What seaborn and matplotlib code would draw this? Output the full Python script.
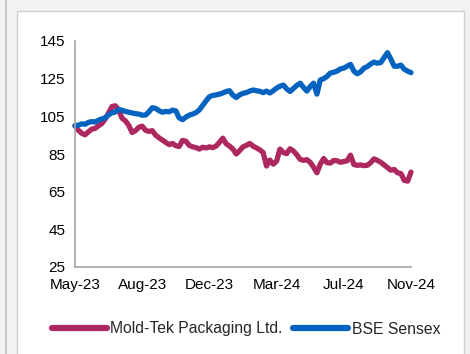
import matplotlib
matplotlib.use("Agg")
import matplotlib.pyplot as plt
import seaborn as sns
import pandas as pd
import numpy as np
from matplotlib.patches import Rectangle
from matplotlib.lines import Line2D

# ---- data (rebased to 100) ----
mold_tek = [100, 97.6, 96, 95.2, 96.8, 98.2, 98.6, 100, 101.2, 103.6,
            106.8, 110.2, 110.6, 108.4, 104, 102.6, 100.2, 96.4, 97.4, 99.2,
            99.8, 97.6, 97, 97.4, 95, 93.6, 92.4, 91.2, 90, 90.6,
            89.4, 89, 92.2, 91.8, 89.6, 88.8, 88.4, 87.6, 88.6, 88.2,
            88.8, 88.4, 89.2, 91.2, 93.4, 90.4, 89.2, 87.6, 85, 86.8,
            88.8, 89.6, 90.6, 89.2, 88.2, 87.2, 85.8, 78.6, 81.8, 79.6,
            81.2, 87.6, 85.8, 85.2, 87.8, 86.6, 84.6, 82.2, 81.6, 82,
            80.6, 78, 75, 79.6, 82.6, 80.4, 80.2, 81.6, 81.4, 80.6,
            81, 81.4, 84.4, 79.4, 79, 79.2, 78.8, 79, 80.4, 82.4,
            81.6, 80.6, 79.2, 77.8, 76.4, 76.8, 75, 74.6, 71, 70.6,
            75.4]
sensex = [100, 100.3, 101, 100.8, 101.8, 102.2, 102, 103, 103.6, 104.2,
          105.8, 106.9, 107.3, 108.7, 108.2, 107.6, 107.2, 106.8, 106.4, 106.2,
          105.6, 105.7, 107.4, 109.6, 109.2, 108, 107.2, 107.6, 107.4, 108.3,
          107.9, 104.2, 103.2, 104.6, 105.6, 106.2, 107, 108.4, 110.8, 113.2,
          115.4, 116.1, 116.4, 116.8, 117.4, 118.2, 118.6, 116.2, 115, 116.4,
          117.2, 117.6, 118.4, 119, 118.6, 118.3, 117.6, 118.4, 117.4, 118.6,
          120, 121, 121.6, 119.6, 118.2, 119.8, 121.4, 122.6, 120.4, 118.4,
          120.8, 122.6, 116.8, 124.3, 125, 126.2, 128, 128.4, 129, 130.2,
          130.6, 131.6, 132.6, 129, 127.6, 128.6, 130.6, 131.4, 132.8, 133.8,
          133.2, 133.6, 136.2, 138.8, 135.4, 131.6, 131.6, 132.2, 130, 129,
          128.2]
tick_labels = ["May-23", "Aug-23", "Dec-23", "Mar-24", "Jul-24", "Nov-24"]
y_ticks = [25, 45, 65, 85, 105, 125, 145]
series_names = ["Mold-Tek Packaging Ltd.", "BSE Sensex"]
colors = ["#AE2860", "#0563C0"]

n = len(sensex)
df = pd.DataFrame({
    "idx": list(range(n)) * 2,
    "value": mold_tek + sensex,
    "series": [series_names[0]] * n + [series_names[1]] * n,
})

sns.set_style("white")
plt.rcParams["font.family"] = ["Liberation Sans", "DejaVu Sans"]

W, H = 470, 354
fig = plt.figure(figsize=(W / 100, H / 100), dpi=100)
fig.patch.set_facecolor("#F2F2F2")
# white chart panel with border
fig.patches.append(Rectangle((17 / W, -0.01), (464 - 17) / W, 1.01 - 11 / H,
                             transform=fig.transFigure, facecolor="white",
                             edgecolor="#D0D0D0", linewidth=1, zorder=-5))
fig.lines.append(Line2D([6 / W, 6 / W], [0, 1], transform=fig.transFigure,
                        color="#C8C8C8", linewidth=1.5, zorder=-5))

ax = fig.add_axes([75 / W, 1 - 267 / H, (411 - 75) / W, (267 - 41) / H])
ax.set_zorder(2)
ax.patch.set_alpha(0)

sns.lineplot(data=df, x="idx", y="value", hue="series", palette=colors,
             linewidth=3.8, ax=ax, legend=False, clip_on=False)

ax.set_xlim(0, n - 1)
ax.set_ylim(25, 145)
ax.set_yticks(y_ticks)
ax.set_yticklabels([str(v) for v in y_ticks], fontsize=11)
tick_pos = np.linspace(0, n - 1, len(tick_labels))
ax.set_xticks(tick_pos)
ax.set_xticklabels(tick_labels, fontsize=11)
ax.set_xlabel("")
ax.set_ylabel("")

for s in ["top", "right"]:
    ax.spines[s].set_visible(False)
for s in ["left", "bottom"]:
    ax.spines[s].set_color("#A6A6A6")
    ax.spines[s].set_linewidth(1.2)
ax.tick_params(axis="both", which="major", direction="out", length=4,
               width=1.2, color="#A6A6A6", labelcolor="black", pad=3)
ax.tick_params(axis="x", pad=4)

handles = [Line2D([], [], color=c, linewidth=4.5) for c in colors]
fig.legend(handles, series_names, loc="center", ncol=2,
           bbox_to_anchor=(246 / W, 1 - 329 / H), frameon=False,
           fontsize=11.3, handlelength=3.5, handletextpad=0.25,
           columnspacing=0.65)

fig.savefig("out.png", dpi=100, facecolor=fig.get_facecolor())
